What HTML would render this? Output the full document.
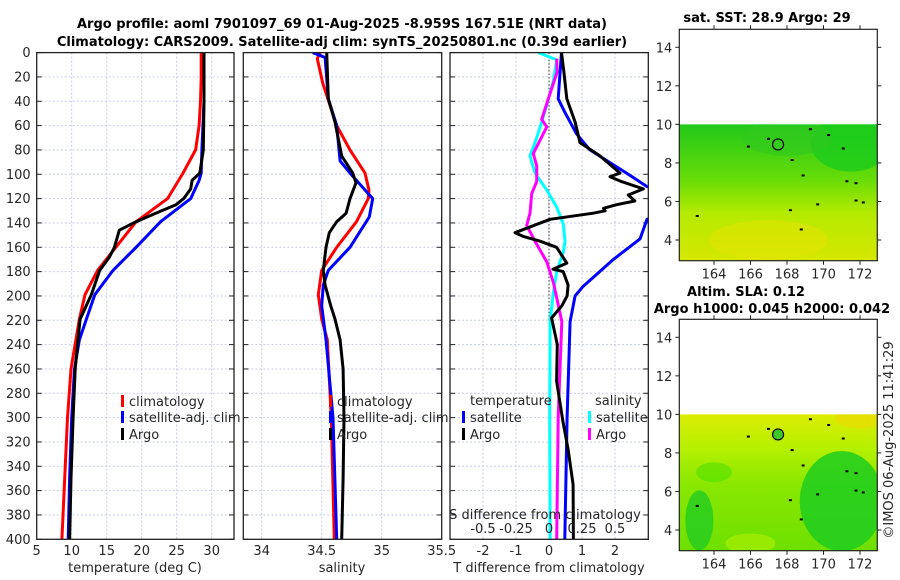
<!DOCTYPE html>
<html><head><meta charset="utf-8"><style>
html,body{margin:0;padding:0;background:#fff;}
svg{display:block;font-family:"DejaVu Sans","Liberation Sans",sans-serif;}
.t{font-size:13px;fill:#262626;}
.b{font-size:13px;font-weight:bold;fill:#000;}
</style></head><body>
<svg id="c" width="900" height="580" viewBox="0 0 900 580">
<defs>
<linearGradient id="g1" x1="0" y1="0" x2="0" y2="1">
<stop offset="0" stop-color="#22c81a"/><stop offset="0.4" stop-color="#66dc08"/><stop offset="0.65" stop-color="#b4ea00"/><stop offset="1" stop-color="#d6e800"/></linearGradient>
<linearGradient id="g2" x1="0" y1="0" x2="0" y2="1">
<stop offset="0" stop-color="#dcec00"/><stop offset="0.25" stop-color="#b6f000"/><stop offset="0.5" stop-color="#8ae800"/><stop offset="1" stop-color="#6ee000"/></linearGradient>
</defs>
<text class="b" x="342" y="28" text-anchor="middle">Argo profile: aoml 7901097_69 01-Aug-2025 -8.959S 167.51E (NRT data)</text>
<text class="b" x="342" y="46" text-anchor="middle">Climatology: CARS2009. Satellite-adj clim: synTS_20250801.nc (0.39d earlier)</text>
<g id="root"></g>
</svg>
<script>
// ---- data ----
const depthTicks=[0,20,40,60,80,100,120,140,160,180,200,220,240,260,280,300,320,340,360,380,400];
const tempTicks=[5,10,15,20,25,30];
const salTicks=[34,34.5,35,35.5];
const tdiffTicks=[-2,-1,0,1,2];
const sdiffTickLabels=["-0.5","-0.25","0","0.25","0.5"];
const tempClimDepth=[0,20,40,60,80,99,120,139,160,179,199,219,236,260,300,350,400];
const tempClim=[28.5,28.5,28.4,28.2,27.7,25.9,23.7,19.2,16.3,13.7,11.9,11.1,10.6,9.9,9.4,9.0,8.6];
const tempSatDepth=[0,40,80,99,105,120,139,160,179,199,219,236,260,300,350,400];
const tempSat=[28.9,28.9,28.6,28.5,28.2,27,22.7,19.2,15.9,13.3,12.1,11.1,10.4,10.0,9.7,9.5];
const tempArgoDepth=[0,40,80,99,105,112,120,125,132,139,146,150,160,168,179,199,219,236,260,300,350,400];
const tempArgo=[28.9,28.9,28.8,28.3,27.2,27.0,26.0,24.9,22.0,19.2,16.8,16.6,16.1,15.4,14.0,12.8,11.2,10.9,10.5,10.2,9.9,9.7];
const salClimDepth=[0,5,25,60,80,99,113,120,139,160,179,199,219,236,300,400];
const salClim=[34.486,34.463,34.508,34.625,34.736,34.861,34.894,34.888,34.79,34.625,34.5,34.472,34.5,34.547,34.58,34.605];
const salSatDepth=[0,4,38,60,89,99,120,135,160,179,191,208,236,300,400];
const salSat=[34.425,34.528,34.555,34.625,34.653,34.736,34.925,34.897,34.736,34.555,34.513,34.5,34.536,34.594,34.625];
const salArgoDepth=[0,38,57,85,99,107,120,132,139,148,160,179,191,208,219,236,260,300,350,400];
const salArgo=[34.542,34.555,34.611,34.667,34.758,34.786,34.736,34.703,34.625,34.563,34.536,34.513,34.528,34.575,34.611,34.653,34.678,34.686,34.678,34.667];
const tdSatDepth=[0,38,49,67,80,99,110,115,132,137,153,170,192,200,221,300,400];
const tdSat=[0.38,0.28,0.48,0.84,1.24,2.35,2.96,3.6,3.6,2.97,2.76,1.95,1.04,0.79,0.64,0.55,0.48];
const tdArgoDepth=[0,16,38,57,74,85,99,102,106,112,117,122,125,128,130,132,137,148,151,155,160,173,178,180,191,200,208,218,240,270,303,326,355,400];
const tdArgo=[0.38,0.45,0.54,0.79,0.94,1.55,2.15,1.85,2.2,2.86,2.4,2.6,2.05,1.65,1.7,1.34,0.03,-1.03,-0.79,-0.27,0.23,0.54,0.12,0.43,0.58,0.55,0.39,0.08,0.25,0.23,0.42,0.58,0.73,0.74];
const sdSatDepth=[0,6,23,43,57,70,85,99,113,127,141,155,164,180,197,221,300,400];
const sdSat=[-0.081,0.059,0.033,-0.017,-0.055,-0.093,-0.144,-0.106,-0.017,0.058,0.108,0.121,0.108,0.058,0.033,0.008,0.005,0.008];
const sdArgoDepth=[5,16,38,55,61,83,93,106,116,132,142,155,172,189,208,221,300,400];
const sdArgo=[0.058,0.061,-0.005,-0.055,-0.017,-0.119,-0.093,-0.093,-0.131,-0.144,-0.169,-0.106,-0.017,0.033,0.071,0.097,0.07,0.058];
const mapLatTicks=[4,6,8,10,12,14];
const mapLonTicks=[164,166,168,170,172];
const argoLon=[167.51];
const argoLat=[8.959];

// ---- helpers ----
const NS="http://www.w3.org/2000/svg";
const root=document.getElementById('root');
function mk(tag,at,parent){const e=document.createElementNS(NS,tag);for(const k in at)e.setAttribute(k,at[k]);(parent||root).appendChild(e);return e;}
const TOP=52.6,BOT=539.3;
const yD=d=>TOP+(BOT-TOP)*d/400;
function lin(d0,d1,p0,p1){return v=>p0+(v-d0)*(p1-p0)/(d1-d0);}
const panels=[
 {x0:36.7,x1:234,name:'temperature-panel'},
 {x0:243.3,x1:441.7,name:'salinity-panel'},
 {x0:450,x1:648.3,name:'difference-panel'}];
const xT=lin(5,10,36.7,71.7);
const xS=lin(35,35.5,381.7,441.7);
const xTD=lin(0,1,549,582);
const xSD=v=>xTD(v*4);

function frame(p,gx,showY){
  const g=mk('g',{});
  
  
  const clip=mk('clipPath',{id:'cl'+p.name},g);
  mk('rect',{x:p.x0,y:TOP,width:p.x1-p.x0,height:BOT-TOP},clip);
  depthTicks.forEach(d=>{
    const y=yD(d);
    const l=mk('line',{x1:p.x0,x2:p.x1,y1:y,y2:y,stroke:'#c6cde6','stroke-width':1,'stroke-dasharray':'2,2'},g);
    
    
    mk('line',{x1:p.x0,x2:p.x0+5,y1:y,y2:y,stroke:'#222'},g);
    mk('line',{x1:p.x1-5,x2:p.x1,y1:y,y2:y,stroke:'#222'},g);
    if(showY){const t=mk('text',{x:p.x0-6,y:y+4.5,'text-anchor':'end',class:'t'},g);t.textContent=d;
      
      }
  });
  gx.forEach(x=>{
    const l=mk('line',{x1:x,x2:x,y1:TOP,y2:BOT,stroke:'#c6cde6','stroke-width':1,'stroke-dasharray':'2,2'},g);
    
    
  });
  return g;
}
function line(g,xs,ds,fx,color,name,clipId){
  const pts=xs.map((v,i)=>fx(v).toFixed(1)+','+yD(ds[i]).toFixed(1)).join(' ');
  const pl=mk('polyline',{points:pts,fill:'none',stroke:color,'stroke-width':3,'stroke-linejoin':'round','clip-path':'url(#'+clipId+')'},g);
  
  
}
function border(g,p){mk('rect',{x:p.x0,y:TOP,width:p.x1-p.x0,height:BOT-TOP,fill:'none',stroke:'#222','stroke-width':1.3},g);}
function txt(g,x,y,s,name,anchor,cls){const t=mk('text',{x:x,y:y,'text-anchor':anchor||'start',class:cls||'t'},g);t.textContent=s;
  
  return t;}
function legend(g,x,y,color,label){
  const r=mk('rect',{x:x,y:y-11,width:3,height:12,fill:color},g);
  
  
  txt(g,x+8,y,label,'legend-entry');
}

// panel 1
let g=frame(panels[0],tempTicks.map(xT),true);
line(g,tempClim,tempClimDepth,xT,'#ff0000','temp-climatology-line','cl'+panels[0].name);
line(g,tempSat,tempSatDepth,xT,'#0000ff','temp-satellite-line','cl'+panels[0].name);
line(g,tempArgo,tempArgoDepth,xT,'#000000','temp-argo-line','cl'+panels[0].name);
border(g,panels[0]);
tempTicks.forEach(v=>txt(g,xT(v),555,v,'temp-tick-label','middle'));
txt(g,135,572,'temperature (deg C)','temp-axis-title','middle');
legend(g,121,406,'#ff0000','climatology');legend(g,121,422,'#0000ff','satellite-adj. clim');legend(g,121,439,'#000','Argo');

// panel 2
g=frame(panels[1],salTicks.map(xS),false);
line(g,salClim,salClimDepth,xS,'#ff0000','sal-climatology-line','cl'+panels[1].name);
line(g,salSat,salSatDepth,xS,'#0000ff','sal-satellite-line','cl'+panels[1].name);
line(g,salArgo,salArgoDepth,xS,'#000000','sal-argo-line','cl'+panels[1].name);
border(g,panels[1]);
salTicks.forEach(v=>txt(g,xS(v),555,v,'sal-tick-label','middle'));
txt(g,342,572,'salinity','sal-axis-title','middle');
legend(g,329,406,'#ff0000','climatology');legend(g,329,422,'#0000ff','satellite-adj. clim');legend(g,329,439,'#000','Argo');

// panel 3
g=frame(panels[2],tdiffTicks.map(xTD),false);
mk('line',{x1:xTD(0),x2:xTD(0),y1:TOP,y2:BOT,stroke:'#333','stroke-width':1,'stroke-dasharray':'1.5,2'},g);
line(g,sdSat,sdSatDepth,xSD,'#00ffff','sdiff-satellite-line','cl'+panels[2].name);
line(g,sdArgo,sdArgoDepth,xSD,'#ff00ff','sdiff-argo-line','cl'+panels[2].name);
line(g,tdSat,tdSatDepth,xTD,'#0000ff','tdiff-satellite-line','cl'+panels[2].name);
line(g,tdArgo,tdArgoDepth,xTD,'#000000','tdiff-argo-line','cl'+panels[2].name);
border(g,panels[2]);
tdiffTicks.forEach(v=>txt(g,xTD(v),555,v,'tdiff-tick-label','middle'));
txt(g,549,572,'T difference from climatology','tdiff-axis-title','middle');
txt(g,545,519,'S difference from climatology','sdiff-axis-title','middle');
sdiffTickLabels.forEach((s,i)=>txt(g,xTD(tdiffTicks[i]),533,s,'sdiff-tick-label','middle'));
txt(g,470,405,'temperature','legend-heading-temperature');
txt(g,595,405,'salinity','legend-heading-salinity');
legend(g,462,422,'#0000ff','satellite');legend(g,462,439,'#000','Argo');
legend(g,588,422,'#00ffff','satellite');legend(g,588,439,'#ff00ff','Argo');

// maps
const mX=lin(164,172,714,860);
function map(oy,grad,name,titles,second){
  const mg=mk('g',{});
  
  
  const mY=lin(14,4,47.3+oy,240+oy);
  const x0=679.3,x1=877.3,y0=29.3+oy,y1=260.7+oy;
  const cid='mc'+oy;
  const cp=mk('clipPath',{id:cid},mg);mk('rect',{x:x0,y:mY(10),width:x1-x0,height:y1-mY(10)},cp);
  mk('rect',{x:x0,y:mY(10),width:x1-x0,height:y1-mY(10),fill:'url(#'+grad+')'},mg);
  const cg=mk('g',{'clip-path':'url(#'+cid+')'},mg);
  if(!second){
    mk('ellipse',{cx:mX(171.5),cy:mY(9),rx:40,ry:28,fill:'#1ccc1c',opacity:0.8},cg);
    mk('ellipse',{cx:mX(168),cy:mY(9.3),rx:45,ry:18,fill:'#30c820',opacity:0.6},cg);
    mk('ellipse',{cx:mX(167),cy:mY(4),rx:60,ry:20,fill:'#e6e400',opacity:0.5},cg);
  } else {
    mk('ellipse',{cx:mX(172),cy:mY(9.8),rx:25,ry:10,fill:'#eadc00',opacity:0.7},cg);
    mk('ellipse',{cx:mX(171),cy:mY(5.5),rx:42,ry:50,fill:'#1ecc1e',opacity:0.85},cg);
    mk('ellipse',{cx:mX(163.2),cy:mY(4.5),rx:14,ry:30,fill:'#22cc22',opacity:0.8},cg);
    mk('ellipse',{cx:mX(166),cy:mY(3.3),rx:25,ry:10,fill:'#a8f000',opacity:0.7},cg);
    mk('ellipse',{cx:mX(164),cy:mY(7),rx:18,ry:10,fill:'#50e000',opacity:0.6},cg);
  }
  [[165.8,8.9],[166.9,9.3],[168.2,8.2],[168.8,7.4],[169.6,5.9],[169.2,9.8],[170.2,9.5],[171,8.8],[171.2,7.1],[171.7,7.0],[171.7,6.1],[172.1,6.0],[163,5.3],[168.1,5.6],[168.7,4.6]].forEach(p=>{
    const s=mk('rect',{x:mX(p[0]),y:mY(p[1]),width:3,height:2,fill:'#000'},mg);
    
    
  });
  argoLon.forEach((lo,i)=>{
    const c=mk('circle',{cx:mX(lo),cy:mY(argoLat[i]),r:5.5,fill:second?'#3cc828':'none',stroke:'#000','stroke-width':1.2},mg);
    
    
  });
  mk('rect',{x:x0,y:y0,width:x1-x0,height:y1-y0,fill:'none',stroke:'#222','stroke-width':1.2},mg);
  mapLatTicks.forEach(v=>{const y=mY(v);
    mk('line',{x1:x0-4,x2:x0,y1:y,y2:y,stroke:'#222'},mg);mk('line',{x1:x1,x2:x1+4,y1:y,y2:y,stroke:'#222'},mg);
    txt(mg,x0-7,y+5,v,'map-lat-tick-label','end');});
  mapLonTicks.forEach(v=>{const x=mX(v);
    mk('line',{x1:x,x2:x,y1:y1,y2:y1+4,stroke:'#222'},mg);mk('line',{x1:x,x2:x,y1:y0-4,y2:y0,stroke:'#222'},mg);
    txt(mg,x,y1+18,v,'map-lon-tick-label','middle');});
  titles.forEach((t,i)=>txt(mg,t[1],t[2],t[0],'map-title','middle','b'));
}
map(0,'g1','sst-map',[['sat. SST: 28.9 Argo: 29',767,22]],false);
map(290,'g2','sla-map',[['Altim. SLA: 0.12',746,296],['Argo h1000: 0.045 h2000: 0.042',772,313]],true);
const cr=txt(root,0,0,'©IMOS 06-Aug-2025 11:41:29','copyright-text','middle');
cr.setAttribute('transform','translate(893,440) rotate(-90)');
</script>
</body></html>
